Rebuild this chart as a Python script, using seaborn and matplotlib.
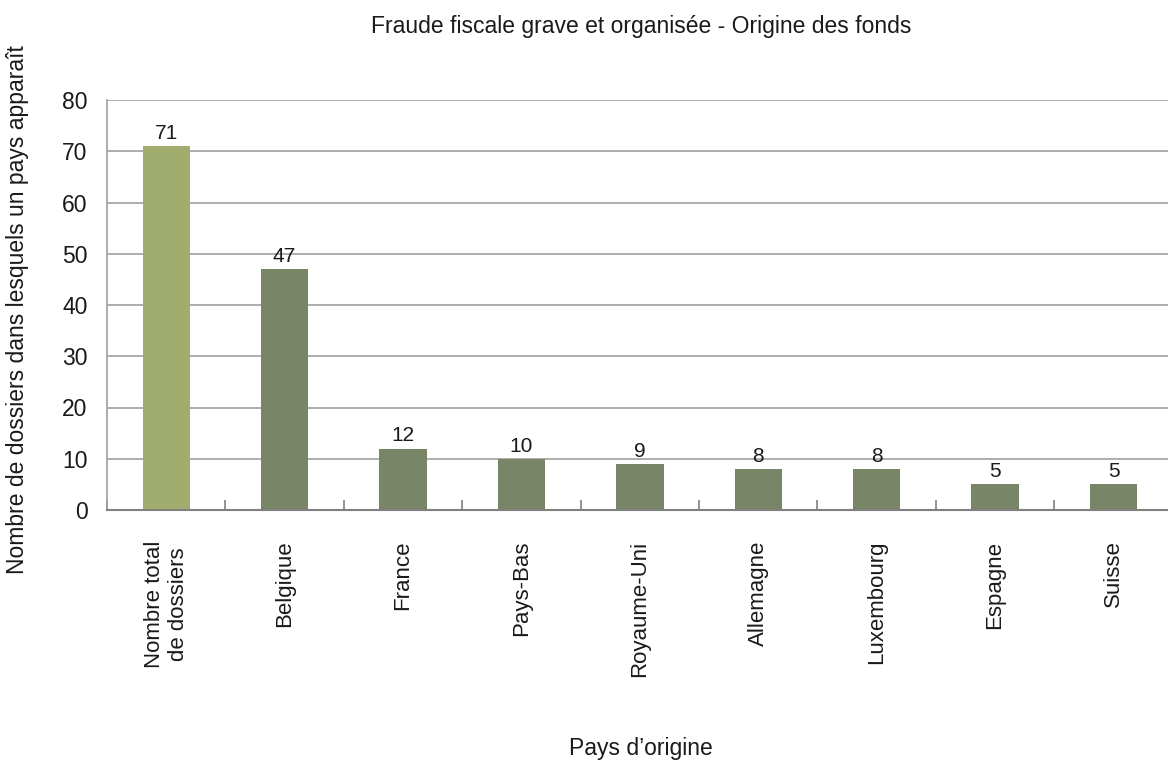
import matplotlib
matplotlib.use("Agg")
import matplotlib.pyplot as plt
import seaborn as sns
import pandas as pd
from matplotlib.ticker import FixedLocator

categories = ["Nombre total\nde dossiers", "Belgique", "France", "Pays-Bas",
              "Royaume-Uni", "Allemagne", "Luxembourg", "Espagne", "Suisse"]
values = [71, 47, 12, 10, 9, 8, 8, 5, 5]
groups = ["total", "pays", "pays", "pays", "pays", "pays", "pays", "pays", "pays"]
palette = {"total": "#a1ad6e", "pays": "#788566"}

title = "Fraude fiscale grave et organisée - Origine des fonds"
ylabel = "Nombre de dossiers dans lesquels un pays apparaît"
xlabel = "Pays d’origine"

df = pd.DataFrame({"cat": categories, "val": values, "grp": groups})

sns.set_style("white")
plt.rcParams["font.family"] = ["Liberation Sans", "DejaVu Sans"]

fig = plt.figure(figsize=(11.68, 7.60), dpi=100)
ax = fig.add_axes([107 / 1168, 1 - 510 / 760, 1 - 107 / 1168, 410 / 760])

sns.barplot(data=df, x="cat", y="val", hue="grp", palette=palette,
            dodge=False, width=0.4, legend=False, ax=ax, saturation=1,
            linewidth=0)

ax.set_ylim(0, 80)
ax.set_xlim(-0.5, 8.46)
ax.set_yticks(range(0, 81, 10))
ax.yaxis.grid(True, color="#a0a0a0", linewidth=1.2)
ax.set_axisbelow(True)

for s in ["top", "right"]:
    ax.spines[s].set_visible(False)
ax.spines["left"].set_color("#a0a0a0")
ax.spines["left"].set_linewidth(1.2)
ax.spines["bottom"].set_color("#808080")
ax.spines["bottom"].set_linewidth(1.5)

ax.tick_params(axis="y", length=0, pad=14, labelsize=16.5, labelcolor="#1a1a1a")
ax.tick_params(axis="x", which="major", length=0, pad=22, labelsize=16,
               labelcolor="#1a1a1a")
ax.xaxis.set_minor_locator(FixedLocator([i + 0.5 for i in range(-1, 8)]))
ax.tick_params(axis="x", which="minor", bottom=True, direction="in", length=7,
               color="#808080", width=1.2)

for lbl in ax.get_xticklabels():
    lbl.set_rotation(90)
    lbl.set_va("top")
    lbl.set_ha("center")
    lbl.set_multialignment("center")

for i, v in enumerate(values):
    ax.text(i, v + 0.6, str(v), ha="center", va="bottom", fontsize=15,
            color="#1a1a1a")

ax.set_xlabel("")
ax.set_ylabel("")
fig.text(641 / 1168, 1 - 27 / 760, title, ha="center", va="center",
         fontsize=16.5, color="#1a1a1a")
fig.text(18 / 1168, 1 - 310 / 760, ylabel, rotation=90, ha="center",
         va="center", fontsize=16.5, color="#1a1a1a")
fig.text(641 / 1168, 1 - 748 / 760, xlabel, ha="center", va="center",
         fontsize=16.5, color="#1a1a1a")

fig.savefig("out.png", dpi=100)
